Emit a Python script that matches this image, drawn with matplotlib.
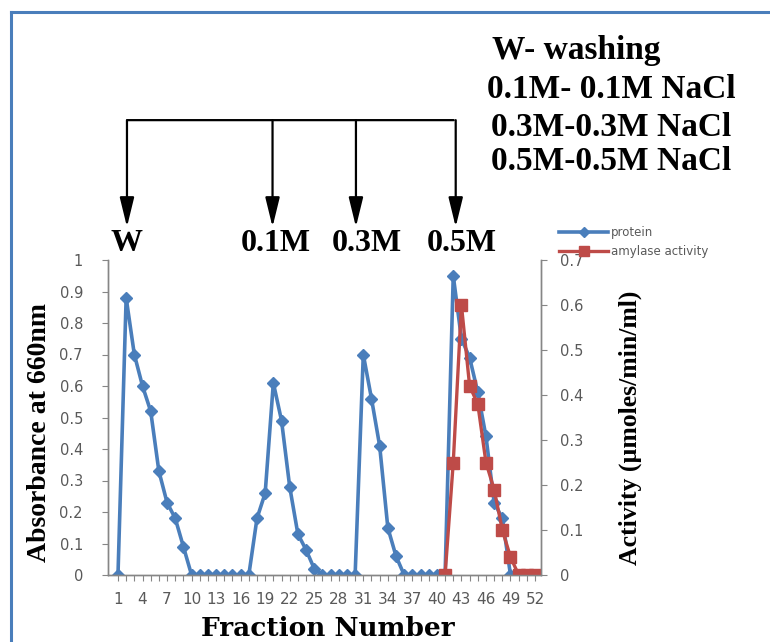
import numpy as np
import matplotlib.pyplot as plt
from matplotlib.transforms import blended_transform_factory

# fraction numbers and measured values
fraction = np.arange(1, 53)
protein = [0, 0.88, 0.70, 0.60, 0.52, 0.33, 0.23, 0.18, 0.09,
           0, 0, 0, 0, 0, 0, 0, 0,
           0.18, 0.26, 0.61, 0.49, 0.28, 0.13, 0.08, 0.02,
           0, 0, 0, 0, 0,
           0.70, 0.56, 0.41, 0.15, 0.06,
           0, 0, 0, 0, 0, 0,
           0.95, 0.75, 0.69, 0.58, 0.44, 0.23, 0.18,
           0, 0, 0, 0]
act_fraction = np.arange(41, 53)
activity = [0, 0.25, 0.60, 0.42, 0.38, 0.25, 0.19, 0.10, 0.04, 0, 0, 0]

xtick_pos = np.arange(1, 53, 3)
elution_steps = ['W', '0.1M', '0.3M', '0.5M']
step_fraction = [2.1, 19.9, 30.1, 42.3]
label_fraction = [2.0, 20.3, 31.4, 43.0]
key_lines = ['W- washing', '0.1M- 0.1M NaCl', '0.3M-0.3M NaCl', '0.5M-0.5M NaCl']

blue = '#4a7ebb'
red = '#be4b48'
grey = '#868686'
tickcol = '#595959'

fig = plt.figure(figsize=(7.7, 6.42), dpi=100)
ax = fig.add_axes([108/770, 1-575/642, (541-108)/770, (575-260)/642])
ax2 = ax.twinx()

l1, = ax.plot(fraction, protein, color=blue, lw=2.6, marker='D', ms=6.5,
              mfc=blue, mec=blue, label='protein')
l2, = ax2.plot(act_fraction, activity, color=red, lw=2.4, marker='s', ms=8.5,
               mfc=red, mec=red, label='amylase activity')

ax.set_xlim(-0.22, 52.73)
ax.set_ylim(0, 1)
ax2.set_ylim(0, 0.7)
ax.set_yticks(np.arange(0, 1.01, 0.1))
ax.set_yticklabels(['0'] + ['%.1f' % v for v in np.arange(0.1, 0.95, 0.1)] + ['1'])
ax2.set_yticks(np.arange(0, 0.71, 0.1))
ax2.set_yticklabels(['0'] + ['%.1f' % v for v in np.arange(0.1, 0.75, 0.1)])
ax.set_xticks(xtick_pos)
ax.set_xticks(fraction, minor=True)

for a in (ax, ax2):
    a.spines['top'].set_visible(False)
    for s in ('left', 'right', 'bottom'):
        a.spines[s].set_color(grey)
        a.spines[s].set_linewidth(1.0)
    a.tick_params(axis='both', which='both', colors=grey, labelcolor=tickcol,
                  labelsize=10.5, direction='out', length=4, width=0.8)
ax.tick_params(axis='x', pad=8, labelsize=11)
ax.tick_params(axis='y', pad=14)
ax2.tick_params(axis='y', pad=10)

ax.set_zorder(ax2.get_zorder() - 1)
ax.patch.set_visible(False)

# axis titles
fig.text(40/770, 1-432/642, 'Absorbance at 660nm', rotation=90, ha='center',
         va='center', family='Liberation Serif', weight='bold', fontsize=20)
fig.text(630/770, 1-428/642, 'Activity (\u00b5moles/min/ml)', rotation=90,
         ha='center', va='center', family='Liberation Serif', weight='bold',
         fontsize=18.5)
fig.text(328/770, 1-628/642, 'Fraction Number', ha='center', va='center',
         family='DejaVu Serif', weight='bold', fontsize=19)

# elution step arrows
tr = blended_transform_factory(ax.transData, ax.transAxes)
ax.annotate('', xy=(step_fraction[-1] + 0.1, 1.444), xytext=(step_fraction[0] - 0.3, 1.444),
            xycoords=tr, textcoords=tr, annotation_clip=False,
            arrowprops=dict(arrowstyle='-', lw=1.6, color='black'))
for xs in step_fraction:
    ax.annotate('', xy=(xs, 1.105), xytext=(xs, 1.444), xycoords=tr, textcoords=tr,
                annotation_clip=False,
                arrowprops=dict(arrowstyle='-|>,head_length=0.9,head_width=0.22',
                                mutation_scale=20, lw=1.6, color='black',
                                shrinkA=0, shrinkB=0))
for lab, xs in zip(elution_steps, label_fraction):
    ax.text(xs, 1.052, lab, transform=tr, ha='center', va='center',
            family='Liberation Serif', weight='bold', fontsize=23, clip_on=False)

key_x = [492, 487, 491, 491]
key_y = [50, 90, 127, 162]
for txt, kx, ky in zip(key_lines, key_x, key_y):
    fig.text(kx/770, 1-ky/642, txt, ha='left', va='center',
             family='Liberation Serif', weight='bold', fontsize=24)

leg = fig.legend(handles=[l1, l2], loc='upper left',
                 bbox_to_anchor=(553/770, 1-220/642), frameon=False,
                 fontsize=8.5, labelcolor=tickcol, handlelength=4.2,
                 handletextpad=0.2, borderpad=0, labelspacing=0.55,
                 markerscale=0.8)

# blue frame around the figure
fig.add_artist(plt.Line2D([11/770, 11/770], [0, 1-12/642], color=blue, lw=2.2))
fig.add_artist(plt.Line2D([11/770, 1], [1-12/642, 1-12/642], color=blue, lw=2.2))

plt.savefig('out.png', dpi=100)
